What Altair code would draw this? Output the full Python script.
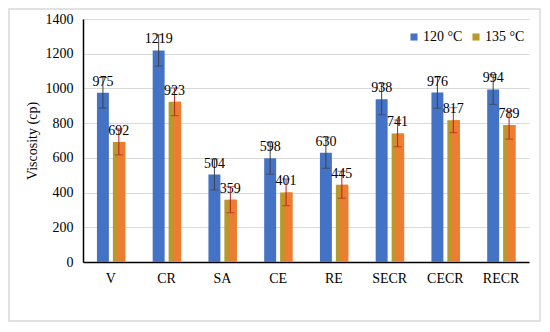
import altair as alt
import pandas as pd

categories = ["V", "CR", "SA", "CE", "RE", "SECR", "CECR", "RECR"]
series = ["120 °C", "135 °C"]
visc_120 = [975, 1219, 504, 598, 630, 938, 976, 994]
visc_135 = [692, 923, 359, 401, 445, 741, 817, 789]
err_120 = [88, 90, 89, 92, 90, 90, 90, 86]
err_135 = [75, 80, 75, 77, 78, 77, 72, 81]
y_ticks = [0, 200, 400, 600, 800, 1000, 1200, 1400]

rows = []
for i, c in enumerate(categories):
    for s, v, e in ((series[0], visc_120[i], err_120[i]), (series[1], visc_135[i], err_135[i])):
        rows.append({"cat": c, "temp": s, "val": v, "lo": v - e, "hi": v + e})
df = pd.DataFrame(rows)

FONT = "Liberation Serif"
BLUE = "#4472C4"
ORANGE = "#ED7D31"
OLIVE = "#B8992C"

yscale = alt.Scale(domain=[0, 1400], nice=False)
yaxis = alt.Axis(values=y_ticks, format="d", labelOverlap=False,
                 labelFont=FONT, labelFontSize=14, labelColor="#000", labelPadding=10,
                 ticks=False, domainColor="#000", domainWidth=1.5,
                 gridColor="#D9D9D9", gridWidth=1,
                 titleFont=FONT, titleFontSize=14, titleFontWeight="normal",
                 titleColor="#000", titlePadding=6)
TITLE = "Viscosity (cp)"

def Y(field):
    return alt.Y(field, title=TITLE, scale=yscale, axis=yaxis)

x = alt.X("cat:N", sort=categories, title=None,
          scale=alt.Scale(paddingInner=0.5, paddingOuter=0.25),
          axis=alt.Axis(labelAngle=0, labelFont=FONT, labelFontSize=14, labelColor="#000",
                        labelPadding=9, ticks=False, domainColor="#000", domainWidth=1.5,
                        grid=False))
xo = alt.XOffset("temp:N", sort=series, scale=alt.Scale(domain=series, paddingInner=0.25, paddingOuter=0))

base = alt.Chart(df)

bars = base.mark_bar().encode(
    x=x, xOffset=xo, y=Y("val:Q"),
    color=alt.Color("temp:N", sort=series,
                    scale=alt.Scale(domain=series, range=[BLUE, OLIVE]),
                    legend=alt.Legend(title=None, orient="none", legendX=324, legendY=11,
                                      direction="horizontal", symbolType="square",
                                      symbolSize=50, symbolStrokeWidth=0,
                                      labelFont=FONT, labelFontSize=14, labelColor="#000",
                                      columnPadding=6, labelOffset=2)),
)

inner = base.transform_filter(alt.datum.temp == "135 °C").mark_bar(
    color=ORANGE, width=alt.RelativeBandSize(0.68)
).encode(x=x, xOffset=xo, y=Y("val:Q"))

errcolor = alt.condition(alt.datum.temp == "120 °C", alt.value("#404040"), alt.value("#B22222"))

rules = base.mark_rule(strokeWidth=1).encode(
    x=x, xOffset=xo, y=Y("lo:Q"), y2="hi:Q", color=errcolor)
caps_lo = base.mark_tick(orient="horizontal", size=8, thickness=1).encode(
    x=x, xOffset=xo, y=Y("lo:Q"), color=errcolor)
caps_hi = base.mark_tick(orient="horizontal", size=8, thickness=1).encode(
    x=x, xOffset=xo, y=Y("hi:Q"), color=errcolor)

labels = base.mark_text(font=FONT, fontSize=14, color="#000", baseline="bottom", dy=-4).encode(
    x=x, xOffset=xo, y=Y("val:Q"), text="val:Q")

frame = alt.Chart(pd.DataFrame({"k": [0]})).mark_rect(
    fill=None, stroke="#D9D9D9", strokeWidth=1.5
).encode(x=alt.value(-74), x2=alt.value(457), y=alt.value(-10), y2=alt.value(302))

chart = alt.layer(frame, bars, inner, rules, caps_lo, caps_hi, labels).properties(
    width=446, height=243,
    autosize=alt.AutoSizeParams(type="none"),
    padding={"left": 75, "top": 11, "right": 13, "bottom": 60},
).configure(background="white", font=FONT).configure_view(stroke=None).configure_legend(
    labelFont=FONT).configure_text(font=FONT)

chart.save("out.html", embed_options={"renderer": "svg", "actions": False})
